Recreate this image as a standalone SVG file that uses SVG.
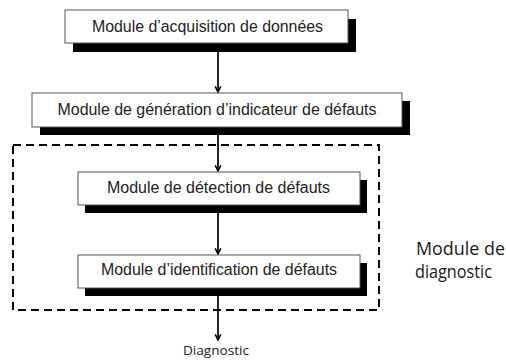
<svg xmlns="http://www.w3.org/2000/svg" width="506" height="360" viewBox="0 0 506 360">
<defs>
<style>
.box{fill:#fff;stroke:#555;stroke-width:1}
.shadow{fill:#000}
.lbl{font-family:"Liberation Sans",Arial,sans-serif;font-size:16px;fill:#222;text-anchor:middle}
.side{font-family:"Open Sans","Liberation Sans",sans-serif;font-size:18px;fill:#1a1a1a}
.out{font-family:"Open Sans","Liberation Sans",sans-serif;font-size:12px;fill:#222;text-anchor:middle}
.conn{stroke:#000;stroke-width:1.7;fill:none;marker-end:url(#arr)}
.group{fill:none;stroke:#000;stroke-width:2;stroke-dasharray:8 5}
</style>
<marker id="arr" viewBox="0 0 10 10" refX="9" refY="5" markerWidth="7" markerHeight="8" markerUnits="userSpaceOnUse" orient="auto">
<path d="M1,1 L9,5 L1,9" fill="none" stroke="#000" stroke-width="2.2"/>
</marker>
</defs>
<rect width="506" height="360" fill="#fff"/>
<g id="diagnostic-group">
<rect class="group" x="13" y="145" width="366" height="165"/>
<text class="side" x="416" y="255" textLength="89" lengthAdjust="spacingAndGlyphs">Module de</text>
<text class="side" x="415" y="278" textLength="77" lengthAdjust="spacingAndGlyphs">diagnostic</text>
</g>
<g id="connectors">
<line class="conn" x1="218" y1="52" x2="218" y2="92"/>
<line class="conn" x1="218" y1="135" x2="218" y2="171"/>
<line class="conn" x1="218" y1="213" x2="218" y2="254"/>
<line class="conn" x1="218" y1="296" x2="218" y2="340"/>
</g>
<g id="acquisition">
<rect class="shadow" x="73" y="19" width="283" height="33"/>
<rect class="box" x="65" y="10" width="283" height="33"/>
<text class="lbl" x="207.5" y="32" textLength="231" lengthAdjust="spacingAndGlyphs">Module d’acquisition de données</text>
</g>
<g id="generation">
<rect class="shadow" x="40" y="101" width="370" height="34"/>
<rect class="box" x="32" y="93" width="370" height="34"/>
<text class="lbl" x="217" y="115" textLength="319" lengthAdjust="spacingAndGlyphs">Module de génération d’indicateur de défauts</text>
</g>
<g id="detection">
<rect class="shadow" x="85" y="180" width="282" height="33"/>
<rect class="box" x="78" y="172" width="282" height="33"/>
<text class="lbl" x="218.5" y="193" textLength="223" lengthAdjust="spacingAndGlyphs">Module de détection de défauts</text>
</g>
<g id="identification">
<rect class="shadow" x="85" y="263" width="282" height="33"/>
<rect class="box" x="78" y="255" width="282" height="33"/>
<text class="lbl" x="219" y="275" textLength="236" lengthAdjust="spacingAndGlyphs">Module d’identification de défauts</text>
</g>
<g id="output">
<text class="out" x="216" y="355" textLength="66" lengthAdjust="spacingAndGlyphs">Diagnostic</text>
</g>
</svg>
